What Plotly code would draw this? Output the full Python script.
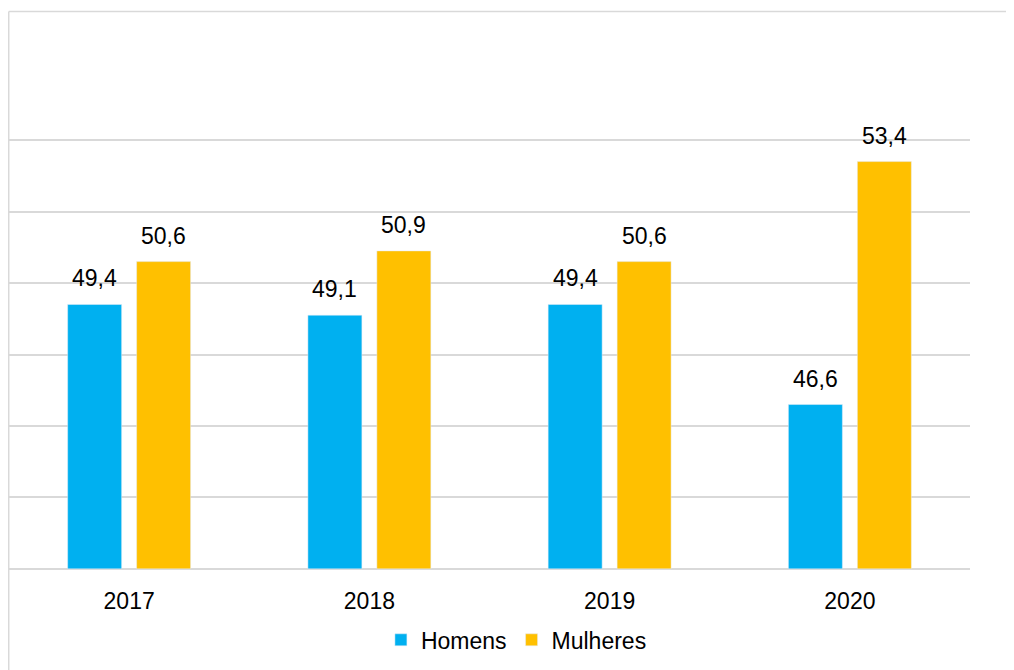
import plotly.graph_objects as go

years = ["2017", "2018", "2019", "2020"]
homens = [49.4, 49.1, 49.4, 46.6]
mulheres = [50.6, 50.9, 50.6, 53.4]
axis_min = 42

def fmt(v):
    return f"{v:.1f}".replace(".", ",")

font = dict(family="Liberation Sans, Arial, sans-serif", size=23, color="#000000")

fig = go.Figure()
fig.add_trace(go.Bar(x=years, y=[v - axis_min for v in homens], base=axis_min,
                     name="Homens", marker_color="#00B0F0"))
fig.add_trace(go.Bar(x=years, y=[v - axis_min for v in mulheres], base=axis_min,
                     name="Mulheres", marker_color="#FFC000"))

annotations = []
for series, shift in ((homens, -34.5), (mulheres, 34.5)):
    for i, v in enumerate(series):
        annotations.append(dict(x=i, y=v, xref="x", yref="y", text=fmt(v),
                                showarrow=False, xshift=shift, yshift=11,
                                yanchor="bottom", font=font))

fig.update_layout(
    width=1014, height=670,
    margin=dict(l=1, r=52, t=130, b=107, autoexpand=False),
    paper_bgcolor="white", plot_bgcolor="white",
    barmode="group", bargap=0.426, bargroupgap=0.217,
    font=font,
    showlegend=True,
    legend=dict(orientation="h", x=0.528, xanchor="center", y=-0.159, yanchor="middle",
                font=font, itemwidth=30, traceorder="normal"),
    xaxis=dict(type="category", categoryorder="array", categoryarray=years,
               range=[-0.5, 3.5], autorange=False,
               showgrid=False, showline=False, ticks="", tickfont=font,
               ticklabelstandoff=14),
    yaxis=dict(range=[41.94, 54.06], autorange=False, dtick=2, tick0=42, showticklabels=False,
               showgrid=True, gridcolor="#d9d9d9", gridwidth=1.6,
               zeroline=False, showline=False, ticks=""),
    annotations=annotations,
    shapes=[
        dict(type="line", xref="paper", yref="paper", x0=-0.0003, x1=1.1, y0=1.292, y1=1.292,
             line=dict(color="#d9d9d9", width=1.5)),
        dict(type="line", xref="paper", yref="paper", x0=-0.0003, x1=-0.0003, y0=1.292, y1=-0.3,
             line=dict(color="#d9d9d9", width=1.5)),
    ],
)

fig.write_html("out.html")
